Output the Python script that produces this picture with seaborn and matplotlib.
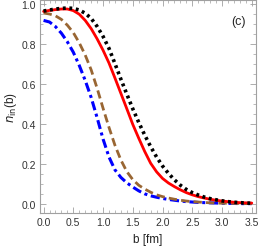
"""Impact-parameter profile n_in(b), panel (c)."""
import matplotlib.pyplot as plt
import pandas as pd
import seaborn as sns
from matplotlib.ticker import MultipleLocator

b = [0.0, 0.1, 0.2, 0.3, 0.4, 0.5, 0.6, 0.7, 0.8, 0.9,
     1.0, 1.1, 1.2, 1.3, 1.4, 1.5, 1.6, 1.7, 1.8, 1.9,
     2.0, 2.1, 2.2, 2.3, 2.4, 2.5, 2.6, 2.7, 2.8, 2.9,
     3.0, 3.1, 3.2, 3.3, 3.4, 3.5]

n_black = [0.965, 0.970, 0.975, 0.978, 0.980, 0.978, 0.970, 0.954, 0.928, 0.888,
           0.838, 0.778, 0.702, 0.624, 0.549, 0.476, 0.408, 0.345, 0.287, 0.235,
           0.190, 0.153, 0.121, 0.094, 0.073, 0.057, 0.045, 0.035, 0.027, 0.021,
           0.016, 0.012, 0.009, 0.007, 0.005, 0.004]
n_red = [0.963, 0.968, 0.972, 0.975, 0.975, 0.967, 0.949, 0.918, 0.877, 0.826,
         0.769, 0.705, 0.630, 0.553, 0.476, 0.398, 0.329, 0.263, 0.204, 0.161,
         0.128, 0.105, 0.087, 0.071, 0.057, 0.046, 0.037, 0.030, 0.024, 0.019,
         0.015, 0.012, 0.009, 0.007, 0.006, 0.005]
n_brown = [0.955, 0.950, 0.941, 0.923, 0.894, 0.857, 0.806, 0.745, 0.671, 0.579,
           0.479, 0.383, 0.294, 0.220, 0.162, 0.122, 0.094, 0.075, 0.059, 0.046,
           0.037, 0.030, 0.024, 0.019, 0.015, 0.012, 0.010, 0.008, 0.006, 0.005,
           0.004, 0.004, 0.003, 0.003, 0.002, 0.002]
n_blue = [0.918, 0.910, 0.887, 0.854, 0.811, 0.759, 0.693, 0.618, 0.533, 0.432,
          0.325, 0.235, 0.171, 0.133, 0.106, 0.085, 0.066, 0.051, 0.041, 0.034,
          0.028, 0.023, 0.019, 0.015, 0.012, 0.010, 0.008, 0.007, 0.006, 0.005,
          0.004, 0.003, 0.003, 0.002, 0.002, 0.002]

sns.set_style("ticks")
plt.rcParams["font.family"] = ["Liberation Sans", "DejaVu Sans"]

df = pd.DataFrame({"b": b, "black": n_black, "red": n_red, "brown": n_brown, "blue": n_blue})

fig = plt.figure(figsize=(2.58, 2.53), dpi=100)
ax = fig.add_axes([0.155, 0.154, 0.837, 0.842])

sns.lineplot(data=df, x="b", y="blue", ax=ax, color="#0000ff", lw=2.2,
             linestyle=(0, (3.0, 1.2, 1.0, 1.2)))
sns.lineplot(data=df, x="b", y="brown", ax=ax, color="#996633", lw=2.0,
             linestyle=(0, (3.0, 1.5)))
sns.lineplot(data=df, x="b", y="red", ax=ax, color="#ff0000", lw=2.0)
sns.lineplot(data=df, x="b", y="black", ax=ax, color="black", lw=2.6,
             linestyle=(0, (0.8, 1.0)))

ax.set_xlim(-0.06, 3.57)
ax.set_ylim(-0.045, 1.02)
ax.xaxis.set_major_locator(MultipleLocator(0.5))
ax.xaxis.set_minor_locator(MultipleLocator(0.1))
ax.yaxis.set_major_locator(MultipleLocator(0.2))
ax.yaxis.set_minor_locator(MultipleLocator(0.05))
ax.xaxis.set_major_formatter(lambda v, p: f"{v:.1f}")
ax.yaxis.set_major_formatter(lambda v, p: f"{v:.1f}")

for s in ax.spines.values():
    s.set_color("#a0a0a0")
    s.set_linewidth(0.8)
ax.tick_params(which="both", direction="in", top=True, right=True,
               color="#a0a0a0", labelsize=7.5, labelcolor="#333333", pad=3)
ax.tick_params(which="major", length=4, width=0.6)
ax.tick_params(which="minor", length=2, width=0.5)

ax.set_xlabel("b [fm]", fontsize=8.5, labelpad=4, color="#222222")
ax.set_ylabel(r"$n_{\mathrm{in}}$(b)", fontsize=8.5, labelpad=2, color="#222222")
ax.text(0.92, 0.90, "(c)", transform=ax.transAxes, fontsize=9, ha="center", va="center")

fig.savefig("out.png", dpi=100)
